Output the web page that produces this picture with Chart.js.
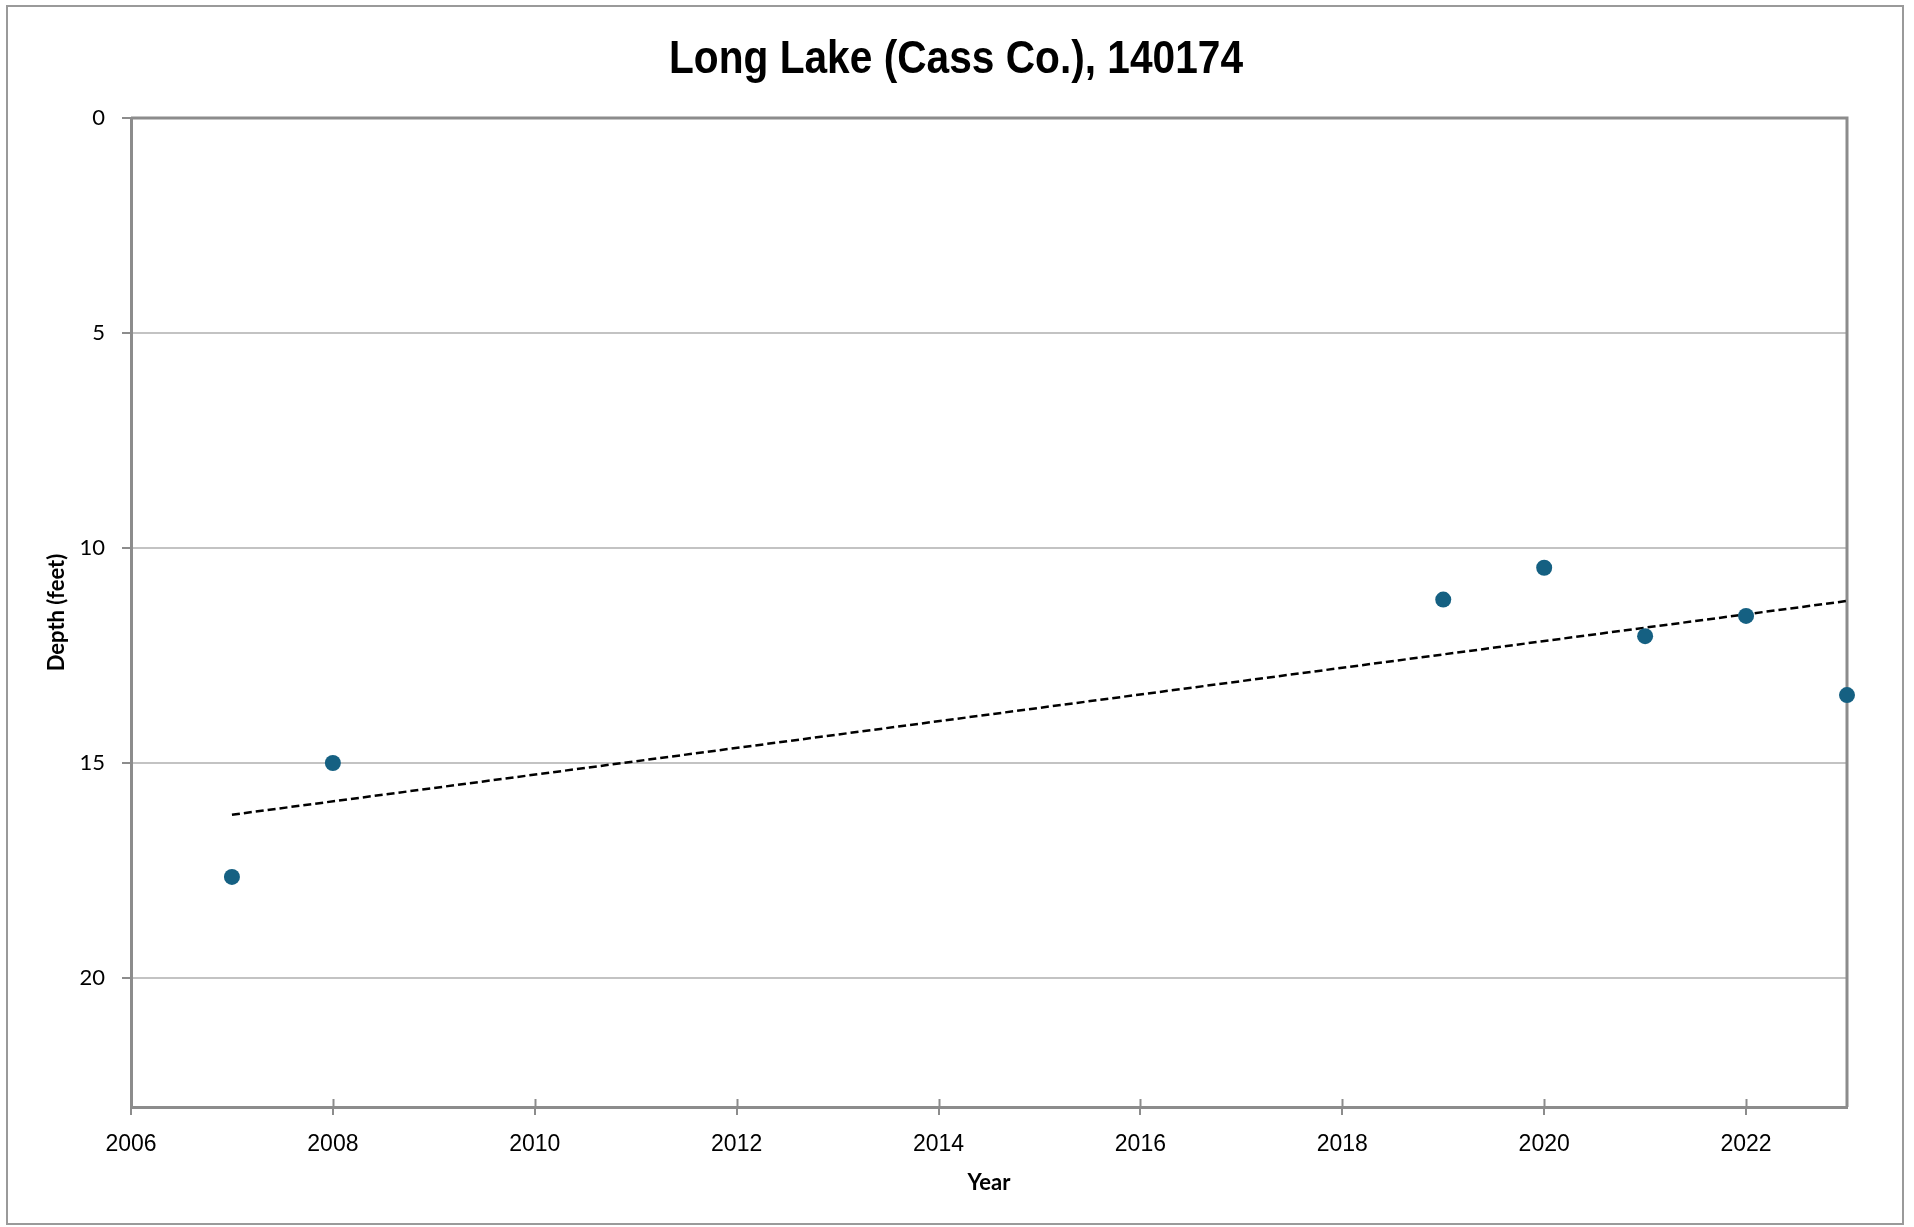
<!DOCTYPE html>
<html>
<head>
<meta charset="utf-8">
<script src="https://cdn.jsdelivr.net/npm/chart.js@4"></script>
<style>
  html, body { margin: 0; padding: 0; background: #fff; }
  #wrap { width: 1914px; height: 1227px; }
</style>
</head>
<body>
<div id="wrap"><canvas id="depthChart" width="1914" height="1227"></canvas></div>
<script>
// data
const years = [2007, 2008, 2019, 2020, 2021, 2022, 2023];
const depths = [17.65, 15.0, 11.2, 10.46, 12.05, 11.58, 13.42];
const yTicks = [0, 5, 10, 15, 20];
const xTicks = [2006, 2008, 2010, 2012, 2014, 2016, 2018, 2020, 2022];
const chartTitle = "Long Lake (Cass Co.), 140174";

// linear trend (least squares), like the spreadsheet trendline
const n = years.length;
const mx = years.reduce((a, b) => a + b, 0) / n;
const my = depths.reduce((a, b) => a + b, 0) / n;
let sxy = 0, sxx = 0;
for (let i = 0; i < n; i++) {
  sxy += (years[i] - mx) * (depths[i] - my);
  sxx += (years[i] - mx) * (years[i] - mx);
}
const slope = sxy / sxx;
const trendYears = [years[0], years[n - 1]];
const trend = trendYears.map((x) => ({ x: x, y: my + slope * (x - mx) }));

const axisGray = "#8c8c8c";

// narrow bold title (no condensed font installed, so squeeze it)
const titlePlugin = {
  id: "narrowTitle",
  afterDraw(chart) {
    const ctx = chart.ctx;
    ctx.save();
    ctx.font = "bold 46px 'Liberation Sans', Arial, sans-serif";
    ctx.fillStyle = "#000";
    ctx.textAlign = "center";
    ctx.textBaseline = "alphabetic";
    const w = ctx.measureText(chartTitle).width;
    const sx = 574 / w;
    ctx.translate(956, 73);
    ctx.scale(sx, 1);
    ctx.fillText(chartTitle, 0, 0);
    ctx.restore();
  },
};

// frame of the plot area, crossing x ticks, outer border (under the markers)
const framePlugin = {
  id: "frame",
  beforeDatasetsDraw(chart) {
    const { ctx, chartArea: a } = chart;
    ctx.save();
    ctx.strokeStyle = axisGray;
    ctx.lineWidth = 3;
    ctx.beginPath();
    ctx.moveTo(a.left, a.top);
    ctx.lineTo(a.right, a.top);
    ctx.lineTo(a.right, a.bottom);
    ctx.stroke();
    // inner half of the x tick marks
    ctx.lineWidth = 2;
    const xs = chart.scales.x;
    xs.ticks.forEach((t) => {
      const px = Math.round(xs.getPixelForValue(t.value)) + 0.5;
      ctx.beginPath();
      ctx.moveTo(px, a.bottom);
      ctx.lineTo(px, a.bottom - 8);
      ctx.stroke();
    });
    // outer border
    ctx.strokeStyle = "#9a9a9a";
    ctx.lineWidth = 2;
    ctx.strokeRect(7, 6, 1896, 1218);
    ctx.restore();
  },
};

const data = {
  datasets: [
    {
      type: "scatter",
      label: "Depth",
      data: years.map((x, i) => ({ x: x, y: depths[i] })),
      backgroundColor: "#156082",
      borderWidth: 0,
      pointRadius: 8,
      pointHoverRadius: 8,
      clip: false,
      order: 1,
    },
    {
      type: "line",
      label: "Trend",
      data: trend,
      borderColor: "#000000",
      borderWidth: 2.5,
      borderDash: [8, 4],
      pointRadius: 0,
      fill: false,
      order: 2,
    },
  ],
};

const config = {
  type: "scatter",
  data: data,
  options: {
    responsive: false,
    animation: false,
    layout: { padding: { top: 118, left: 20, right: 67, bottom: 20 } },
    scales: {
      x: {
        type: "linear",
        position: "bottom",
        min: 2006,
        max: 2023,
        afterBuildTicks: (s) => { s.ticks = xTicks.map((v) => ({ value: v })); },
        afterFit: (s) => { s.height = 100; },
        ticks: {
          font: { family: "'Liberation Sans', Arial, sans-serif", size: 23 },
          color: "#000",
          padding: 16,
          maxRotation: 0,
          autoSkip: false,
          callback: (v) => String(v),
        },
        grid: {
          drawOnChartArea: false,
          tickLength: 8,
          tickColor: axisGray,
          lineWidth: 2,
        },
        border: { color: axisGray, width: 3 },
        title: {
          display: true,
          text: "Year",
          font: { family: "Lato, sans-serif", size: 22, weight: "bold" },
          color: "#000",
          padding: { top: 0, bottom: 11 },
        },
      },
      y: {
        type: "linear",
        position: "left",
        reverse: true,
        min: 0,
        max: 23,
        afterBuildTicks: (s) => { s.ticks = yTicks.map((v) => ({ value: v })); },
        afterFit: (s) => { s.width = 111; },
        ticks: {
          font: { family: "Lato, sans-serif", size: 22 },
          color: "#000",
          padding: 17,
        },
        grid: {
          color: "#c3c3c3",
          lineWidth: 2,
          tickLength: 9,
          tickColor: axisGray,
        },
        border: { color: axisGray, width: 3 },
        title: {
          display: true,
          text: "Depth (feet)",
          font: { family: "Lato, sans-serif", size: 22, weight: "bold" },
          color: "#000",
          padding: { top: 24, bottom: 0 },
        },
      },
    },
    plugins: {
      legend: { display: false },
      tooltip: { enabled: false },
      title: { display: false },
    },
  },
  plugins: [framePlugin, titlePlugin],
};

const ctx = document.getElementById("depthChart").getContext("2d");
const depthChart = new Chart(ctx, config);
</script>
</body>
</html>
